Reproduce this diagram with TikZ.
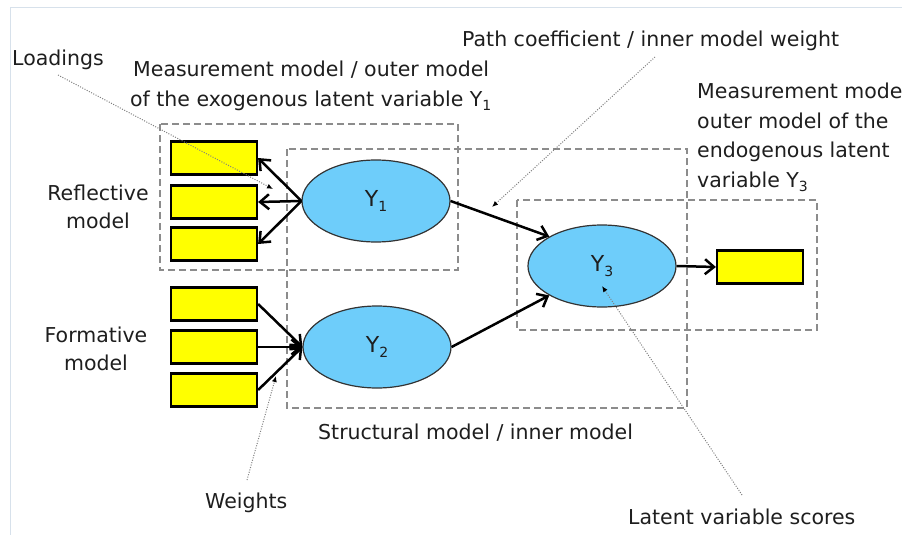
\documentclass[tikz,border=0pt]{standalone}
\usepackage{fontspec}
\setmainfont{DejaVu Sans}
\usetikzlibrary{shapes.geometric,arrows.meta}
\definecolor{txt}{RGB}{30,30,30}
\definecolor{ybox}{RGB}{255,255,0}
\definecolor{lv}{RGB}{110,205,250}
\definecolor{dashc}{RGB}{140,140,140}
\definecolor{framec}{RGB}{215,225,235}
\newcommand{\lsub}[1]{\raisebox{-0.4ex}{\fontsize{14}{14}\selectfont #1}}
\begin{document}
\begin{tikzpicture}[x=1pt,y=-1pt,
 lbl/.style={font=\fontsize{20.5}{24}\selectfont, text=txt, inner sep=0pt, anchor=base west},
 lblc/.style={lbl, anchor=base},
 ind/.style={draw=black, line width=2.2pt, fill=ybox, minimum width=86pt, minimum height=33pt, inner sep=0pt},
 lat/.style={ellipse, draw=black!80, line width=1.2pt, fill=lv, minimum width=148pt, minimum height=82pt, inner sep=0pt, font=\fontsize{22}{24}\selectfont, text=txt},
 grp/.style={draw=dashc, dash pattern=on 7pt off 4pt, line width=1.6pt},
 conn/.style={line width=2.5pt, -{Straight Barb[length=9pt,width=15pt]}},
 note/.style={draw=gray, dash pattern=on 1pt off 1.5pt, line width=1pt, -{Latex[length=6pt,width=5pt,color=black]}}
]
\useasboundingbox (0,0) rectangle (902,535);
\fill[white] (0,0) rectangle (902,535);
\draw[framec, line width=1pt] (10,535) -- (10,8) -- (902,8);

% dashed groups
\draw[grp] (160,124) rectangle (458,270);
\draw[grp] (287,149) rectangle (687,408);
\draw[grp] (517,200) rectangle (817,330);

% indicators
\node[ind] (r1) at (214,158) {};
\node[ind] (r2) at (214,202) {};
\node[ind] (r3) at (214,244) {};
\node[ind] (f1) at (214,304) {};
\node[ind] (f2) at (214,347) {};
\node[ind] (f3) at (214,390) {};
\node[ind] (out) at (760,267) {};

% latent variables
\node[lat] (y1) at (376,201) {\raisebox{-4pt}{Y\lsub{1}}};
\node[lat] (y2) at (377,347) {\raisebox{-4pt}{Y\lsub{2}}};
\node[lat] (y3) at (602,266) {\raisebox{-4pt}{Y\lsub{3}}};

% connectors
\draw[conn] (y1.west) -- (r1.east);
\draw[conn] (y1.west) -- (r2.east);
\draw[conn] (y1.west) -- (r3.east);
\draw[conn] (f1.east) -- (y2.west);
\draw[conn] (f2.east) -- (y2.west);
\draw[conn] (f3.east) -- (y2.west);
\draw[conn] (y1.east) -- (y3.north west);
\draw[conn] (y2.east) -- (y3.south west);
\draw[conn] (y3.east) -- (out.west);

% labels
\node[lbl] (loadings) at (12,66) {Loadings};
\node[lbl] (mm1a) at (133,77) {Measurement model / outer model};
\node[lbl] (mm1b) at (130,106) {of the exogenous latent variable Y\lsub{1}};
\node[lbl] (path) at (462,47) {Path coefficient / inner model weight};
\node[lbl] (mm3a) at (697,98) {Measurement mode};
\node[lbl] (mm3b) at (697,128) {outer model of the};
\node[lbl] (mm3c) at (697,157) {endogenous latent};
\node[lbl] (mm3d) at (697,187) {variable Y\lsub{3}};
\node[lblc] (refa) at (98,200) {Reflective};
\node[lblc] (refb) at (98,228) {model};
\node[lblc] (forma) at (96,342) {Formative};
\node[lblc] (formb) at (96,370) {model};
\node[lbl] (struct) at (318,439) {Structural model / inner model};
\node[lbl] (weights) at (205,508) {Weights};
\node[lbl] (scores) at (628,524) {Latent variable scores};

% annotation pointers
\coordinate (lo1) at (58,75);
\coordinate (lo2) at (273,189);
\coordinate (pc1) at (655,57);
\coordinate (pc2) at (492,207);
\coordinate (sc1) at (742,495);
\coordinate (sc2) at (602,286);
\coordinate (we1) at (247,480);
\coordinate (we2) at (276,376);
\draw[note] (lo1) -- (lo2);
\draw[note] (pc1) -- (pc2);
\draw[note] (sc1) -- (sc2);
\draw[note] (we1) -- (we2);
\end{tikzpicture}
\end{document}
